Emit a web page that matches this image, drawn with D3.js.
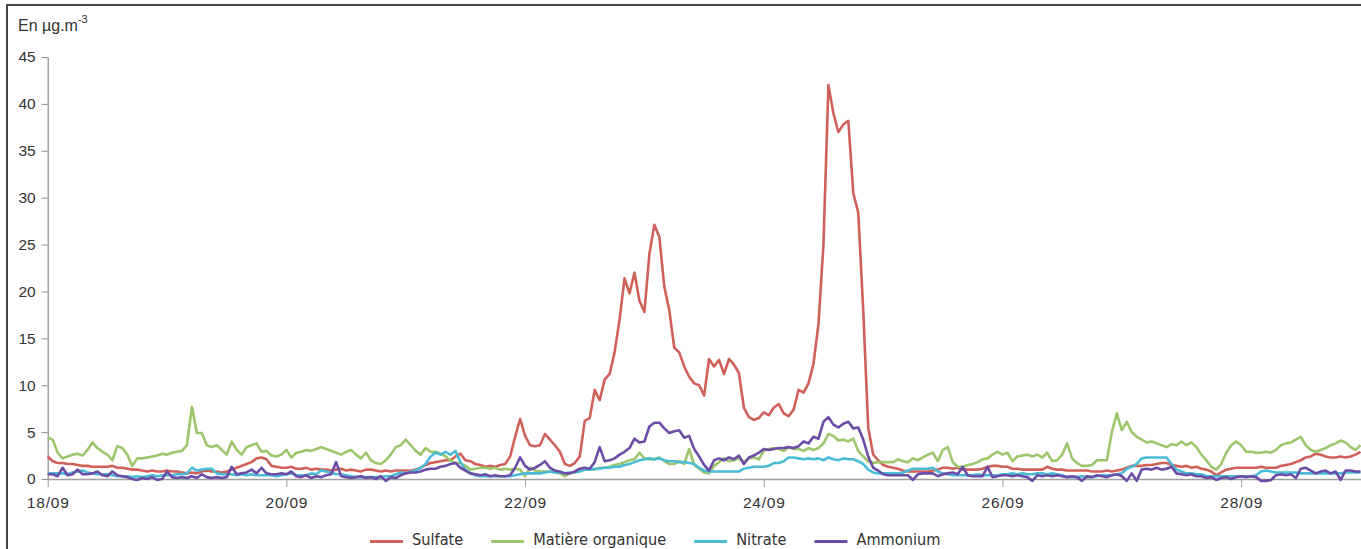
<!DOCTYPE html>
<html>
<head>
<meta charset="utf-8">
<script src="https://cdn.jsdelivr.net/npm/d3@7"></script>
<style>
html,body{margin:0;padding:0;background:#fff;}
svg{display:block;}
</style>
</head>
<body>
<svg id="chart" width="1361" height="549"></svg>
<script>
// ---- DATA (hourly values, 18/09 00:00 -> 29/09 00:00) ----
const startDate = Date.UTC(2013, 8, 18);
const endDate = Date.UTC(2013, 8, 29);
const xTickDays = [18, 20, 22, 24, 26, 28];
const yTicks = [0, 5, 10, 15, 20, 25, 30, 35, 40, 45];
const seriesNames = ["Sulfate", "Matière organique", "Nitrate", "Ammonium"];
const seriesColors = ["#d0615a", "#9dc56b", "#4bbcd6", "#6b4ca6"];

const sulfate = [
2.4,1.9,1.7,1.7,1.6,1.6,1.5,1.4,1.4,1.3,1.3,1.3,1.3,1.4,1.2,1.2,1.1,1.0,1.0,0.9,0.8,0.9,0.8,0.8,
0.9,0.8,0.8,0.7,0.6,0.7,0.6,0.8,0.9,0.8,0.8,0.7,0.8,1.0,1.2,1.4,1.6,1.8,2.2,2.3,2.1,1.4,1.3,1.2,
1.2,1.3,1.1,1.1,1.2,1.0,1.1,1.0,1.0,0.9,1.0,1.1,0.9,1.0,0.9,0.8,1.0,1.0,0.9,0.8,0.9,0.8,0.9,0.9,
0.9,0.9,1.0,1.2,1.5,1.7,1.8,1.9,2.0,2.0,2.4,2.7,2.0,1.9,1.6,1.5,1.3,1.4,1.3,1.5,1.6,2.4,4.5,6.4,
4.6,3.6,3.5,3.6,4.8,4.2,3.6,2.9,1.6,1.4,1.7,2.4,6.2,6.5,9.5,8.4,10.6,11.2,13.5,17.0,21.4,19.8,22.0,19.0,
17.8,24.0,27.1,25.8,20.5,18.0,14.0,13.5,12.0,10.9,10.2,10.0,8.9,12.8,12.0,12.7,11.2,12.8,12.2,11.3,7.6,6.6,6.3,6.5,
7.1,6.8,7.6,8.0,7.0,6.7,7.4,9.5,9.2,10.2,12.3,16.5,25.0,42.0,39.0,37.0,37.8,38.2,30.5,28.4,18.0,5.5,2.6,2.0,
1.5,1.3,1.2,1.1,0.9,0.8,0.8,0.8,0.8,0.8,0.9,1.0,1.2,1.2,1.1,1.2,1.0,1.0,1.0,1.0,1.1,1.3,1.4,1.4,
1.3,1.3,1.1,1.1,1.0,1.0,1.0,1.0,1.0,1.3,1.1,1.0,1.0,0.9,0.9,0.9,0.9,0.9,0.8,0.8,0.8,0.9,0.8,0.9,
1.0,1.2,1.4,1.4,1.4,1.5,1.5,1.6,1.7,1.7,1.5,1.4,1.3,1.4,1.2,1.3,1.1,1.0,0.8,0.4,0.7,1.0,1.1,1.2,
1.2,1.2,1.2,1.2,1.3,1.2,1.2,1.2,1.4,1.5,1.6,1.8,2.0,2.3,2.4,2.7,2.6,2.4,2.3,2.3,2.4,2.3,2.4,2.6,
2.9];

const matiereOrganique = [
4.4,4.2,2.8,2.2,2.4,2.6,2.7,2.5,3.1,3.9,3.3,2.9,2.6,2.0,3.5,3.3,2.6,1.4,2.2,2.2,2.3,2.4,2.5,2.7,
2.6,2.8,2.9,3.0,3.6,7.7,4.9,4.9,3.6,3.4,3.6,3.1,2.6,4.0,3.1,2.6,3.4,3.6,3.8,2.9,3.0,2.5,2.4,2.6,
3.1,2.3,2.8,2.9,3.1,3.0,3.2,3.4,3.2,3.0,2.8,2.6,2.9,3.1,2.6,2.2,2.8,2.0,1.7,1.6,2.0,2.6,3.4,3.6,
4.2,3.6,3.0,2.6,3.3,2.9,2.9,2.7,2.4,2.0,1.7,1.7,1.4,1.0,1.1,1.2,1.2,1.1,1.2,1.0,1.1,1.0,1.1,1.0,
0.3,1.2,0.9,0.8,0.8,0.8,0.7,0.6,0.3,0.6,0.7,0.9,1.0,1.1,1.0,1.2,1.2,1.3,1.5,1.6,1.8,2.0,2.1,2.8,
2.2,2.1,2.1,2.3,1.9,1.6,1.6,1.9,1.6,3.2,1.5,1.1,0.7,0.6,1.4,1.8,2.2,1.9,2.0,2.2,1.8,2.2,2.3,2.1,
3.0,3.2,3.3,3.2,3.0,3.4,3.2,3.2,3.0,3.3,3.1,3.3,3.8,4.8,4.6,4.1,4.2,4.0,4.3,3.0,2.4,1.9,1.7,1.8,
1.8,1.8,1.8,2.1,1.9,1.8,2.2,2.0,2.3,2.6,2.8,1.9,3.1,3.4,1.8,1.3,1.3,1.5,1.6,1.8,2.1,2.2,2.6,2.9,
2.6,2.8,1.9,2.4,2.5,2.6,2.4,2.6,2.3,2.8,1.9,2.0,2.6,3.8,2.2,1.7,1.4,1.4,1.5,2.0,2.0,2.0,5.0,7.0,
5.2,6.1,5.0,4.5,4.2,3.9,4.0,3.8,3.6,3.4,3.7,3.6,4.0,3.6,3.9,3.4,2.6,2.0,1.3,1.0,1.6,2.8,3.6,4.0,
3.6,2.9,2.9,2.8,2.8,2.9,2.8,3.1,3.6,3.8,3.9,4.2,4.5,3.6,3.1,2.9,3.1,3.3,3.6,3.8,4.1,3.9,3.4,3.1,
3.6];

const nitrate = [
0.6,0.6,0.6,0.6,0.5,0.7,0.8,0.9,0.7,0.6,0.5,0.5,0.5,0.4,0.3,0.3,0.3,0.2,0.3,0.2,0.3,0.4,0.3,0.4,
0.4,0.4,0.5,0.5,0.6,1.2,0.9,1.0,1.1,1.1,0.6,0.5,0.5,0.5,0.4,0.5,0.4,0.5,0.4,0.4,0.4,0.4,0.3,0.4,
0.5,0.6,0.4,0.4,0.4,0.6,0.5,0.9,0.8,0.7,0.5,0.5,0.4,0.3,0.2,0.2,0.2,0.2,0.2,0.2,0.3,0.3,0.5,0.7,
0.6,0.8,0.9,1.2,1.6,2.4,2.8,2.6,2.9,2.6,3.0,1.8,1.0,0.6,0.4,0.3,0.3,0.3,0.3,0.3,0.3,0.3,0.4,0.5,
0.6,0.6,0.6,0.6,0.7,0.8,0.7,0.7,0.6,0.7,0.7,0.8,1.0,1.0,1.1,1.1,1.2,1.2,1.3,1.3,1.5,1.6,1.8,2.0,
2.1,2.2,2.1,2.2,2.0,1.9,1.9,1.8,1.8,1.7,1.6,1.2,0.9,0.8,0.8,0.8,0.8,0.8,0.8,0.8,1.1,1.2,1.3,1.3,
1.3,1.4,1.7,1.7,1.9,2.3,2.3,2.2,2.1,2.2,2.1,2.2,2.0,2.3,2.1,2.0,2.2,2.1,2.1,1.9,1.6,1.0,0.7,0.6,
0.6,0.6,0.6,0.6,0.7,0.9,1.1,1.1,1.1,1.1,1.2,0.8,0.6,0.5,0.4,0.4,0.4,0.4,0.4,0.5,0.4,0.4,0.4,0.4,
0.5,0.5,0.6,0.5,0.6,0.5,0.5,0.6,0.6,0.5,0.6,0.5,0.4,0.2,0.2,0.2,0.3,0.2,0.2,0.3,0.4,0.4,0.4,0.5,
0.6,1.1,1.3,1.6,2.2,2.3,2.3,2.3,2.3,2.3,1.6,1.0,0.8,0.6,0.6,0.5,0.5,0.3,0.3,0.3,0.3,0.3,0.3,0.3,
0.3,0.3,0.3,0.4,0.8,0.9,0.8,0.7,0.7,0.7,0.7,0.7,0.6,0.6,0.6,0.6,0.6,0.6,0.6,0.6,0.6,0.7,0.7,0.7,
0.7];

const ammonium = [
0.5,0.5,0.3,1.2,0.4,0.5,1.0,0.5,0.5,0.6,0.8,0.4,0.3,0.8,0.4,0.3,0.2,0.0,-0.1,0.1,0.0,0.2,-0.1,0.0,
0.8,0.2,0.1,0.2,0.1,0.3,0.1,0.5,0.2,0.1,0.2,0.1,0.2,1.3,0.5,0.6,0.7,1.0,0.6,1.2,0.6,0.5,0.5,0.6,
0.5,0.8,0.3,0.2,0.4,0.1,0.3,0.2,0.4,0.5,1.8,0.3,0.2,0.1,0.2,0.3,0.1,0.2,0.0,0.3,-0.2,0.2,0.1,0.4,
0.6,0.7,0.7,0.8,1.0,1.1,1.1,1.3,1.4,1.6,1.7,1.2,0.9,0.6,0.5,0.4,0.5,0.3,0.4,0.3,0.3,0.4,1.2,2.3,
1.4,1.0,1.2,1.5,1.9,1.2,0.9,0.8,0.6,0.6,0.8,1.1,1.2,1.1,1.8,3.4,1.9,2.0,2.2,2.6,2.9,3.3,4.3,3.9,
4.0,5.6,6.0,6.0,5.4,4.9,5.1,5.2,4.4,4.6,3.2,2.4,1.5,0.9,2.0,2.2,2.0,2.3,2.1,2.5,1.6,2.3,2.5,2.8,
3.2,3.1,3.2,3.3,3.3,3.4,3.3,3.5,4.0,3.8,4.5,4.3,6.1,6.6,5.8,5.5,5.9,6.1,5.4,5.5,4.2,2.4,1.2,0.9,
0.5,0.4,0.4,0.4,0.4,0.4,-0.1,0.5,0.6,0.6,0.6,0.3,0.5,0.6,0.7,0.5,1.3,0.4,0.3,0.3,0.3,1.3,0.2,0.3,
0.4,0.4,0.3,0.4,0.3,0.2,-0.2,0.4,0.3,0.4,0.3,0.4,0.3,0.2,0.3,0.2,-0.2,0.3,0.2,0.4,0.3,0.2,0.4,0.5,
0.3,-0.2,0.6,-0.2,1.0,1.1,1.0,1.2,1.0,1.1,1.3,0.6,0.5,0.4,0.5,0.3,0.3,0.1,0.2,-0.1,0.1,0.2,0.0,0.2,
0.3,0.2,0.3,0.2,-0.2,-0.2,-0.1,0.4,0.5,0.4,0.5,0.1,1.1,1.2,0.9,0.6,0.8,0.9,0.6,0.8,-0.1,0.9,0.9,0.8,
0.8];

const seriesValues = [sulfate, matiereOrganique, nitrate, ammonium];

// ---- CHART ----
const svg = d3.select("#chart");
const HOUR = 3600 * 1000;

const x = d3.scaleUtc().domain([startDate, endDate]).range([47.7, 1360.5]);
const y = d3.scaleLinear().domain([0, 45]).range([479, 57]);

// frame
svg.append("path")
  .attr("d", "M7,549V5H1361")
  .attr("fill", "none")
  .attr("stroke", "#454545")
  .attr("stroke-width", 2);

// unit label
const unit = svg.append("text")
  .attr("x", 18).attr("y", 31)
  .attr("font-family", "'Liberation Sans', Arial, sans-serif")
  .attr("font-size", 16)
  .attr("fill", "#333");
unit.append("tspan").text("En µg.m");
unit.append("tspan").attr("dy", -8).attr("font-size", 11).text("-3");

// y axis
const yAxis = svg.append("g")
  .attr("transform", "translate(47.7,0)")
  .call(d3.axisLeft(y).tickValues(yTicks).tickSize(6).tickSizeOuter(0).tickPadding(6));
yAxis.select(".domain").attr("stroke", "#8c8c8c").attr("stroke-width", 1.2);
yAxis.selectAll(".tick line").attr("stroke", "#8c8c8c");
yAxis.selectAll("text")
  .attr("font-family", "'Liberation Sans', Arial, sans-serif")
  .attr("font-size", 15.5)
  .attr("fill", "#333");

// x axis
const xTickValues = xTickDays.map(d => Date.UTC(2013, 8, d));
const xAxis = svg.append("g")
  .attr("transform", "translate(0,479)")
  .call(d3.axisBottom(x).tickValues(xTickValues)
    .tickFormat(d3.utcFormat("%d/%m")).tickSize(8).tickSizeOuter(0).tickPadding(10));
xAxis.select(".domain").attr("stroke", "#a0a0a0").attr("stroke-width", 1.5);
xAxis.selectAll(".tick line").attr("stroke", "#999");
xAxis.selectAll("text")
  .attr("font-family", "'Liberation Sans', Arial, sans-serif")
  .attr("font-size", 15.5)
  .attr("letter-spacing", 0.8)
  .attr("fill", "#333");

// lines
const line = d3.line()
  .x((d, i) => x(startDate + i * HOUR))
  .y(d => y(d));

seriesValues.forEach((vals, k) => {
  svg.append("path")
    .datum(vals)
    .attr("fill", "none")
    .attr("stroke", seriesColors[k])
    .attr("stroke-width", 2.6)
    .attr("stroke-linejoin", "round")
    .attr("d", line);
});

// legend
const legend = svg.append("g");
let lx = 370;
seriesNames.forEach((name, k) => {
  legend.append("line")
    .attr("x1", lx).attr("x2", lx + 33)
    .attr("y1", 541.5).attr("y2", 541.5)
    .attr("stroke", seriesColors[k])
    .attr("stroke-width", 3);
  const t = legend.append("text")
    .attr("x", lx + 42).attr("y", 544.5)
    .attr("font-family", "'Liberation Sans Narrow', 'DejaVu Sans Condensed', sans-serif")
    .attr("font-size", 16.2)
    .attr("fill", "#333")
    .text(name);
  lx = lx + 42 + t.node().getComputedTextLength() + 28;
});
</script>
</body>
</html>
